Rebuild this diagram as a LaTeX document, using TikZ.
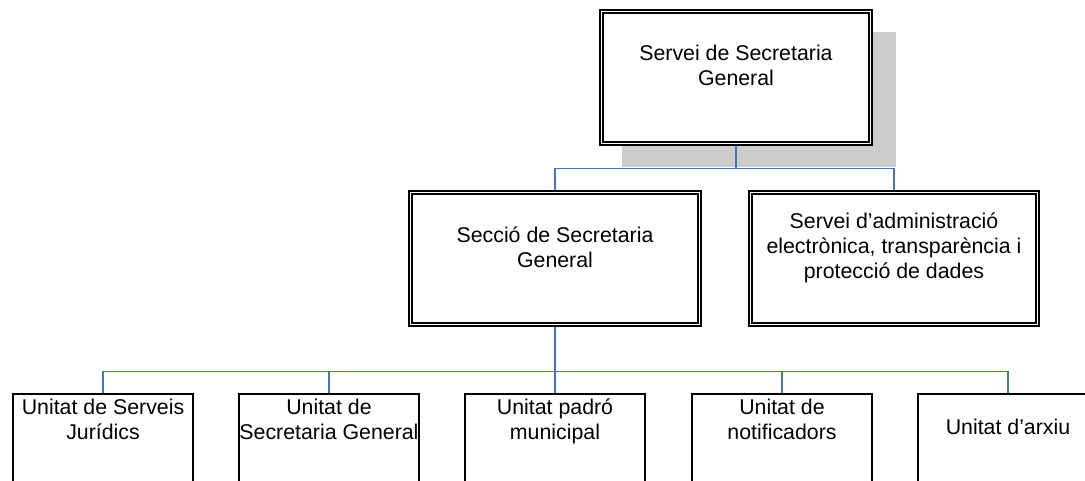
\documentclass[tikz,border=0pt]{standalone}
\usepackage{fontspec}
\setmainfont{Liberation Sans}
\usetikzlibrary{positioning,backgrounds}
\definecolor{linkblue}{RGB}{68,114,196}
\definecolor{shadowgray}{RGB}{204,204,204}
\tikzset{
  dblbox/.style={draw, fill=white, double, line width=1.2pt, double distance=1.2pt, inner sep=0pt},
  unitbox/.style={draw, line width=1.2pt, inner sep=0pt, minimum width=135pt, minimum height=150pt},
  lbl/.style={font=\fontsize{16}{18.75}\selectfont, align=center, inner sep=0pt},
  link/.style={draw=linkblue, line width=1.2pt}
}

\begin{document}
\begin{tikzpicture}[x=0.75pt,y=-0.75pt]
\useasboundingbox (0,0) rectangle (1085,480);
% top level
\node[dblbox, minimum width=201.75pt, minimum height=99pt] (sg) at (736,77.5) {};
\node[lbl, below=25.5pt of sg.north] (sg-t) {Servei de Secretaria\\General};
% second level
\node[dblbox, minimum width=216.75pt, minimum height=99pt] (ssg) at (555,258.5) {};
\node[lbl, below=26pt of ssg.north] (ssg-t) {Secció de Secretaria\\General};
\node[dblbox, minimum width=215.25pt, minimum height=99pt] (sea) at (894,258.5) {};
\node[lbl, below=15.75pt of sea.north] (sea-t) {Servei d’administració\\electrònica, transparència i\\protecció de dades};
% units
\node[unitbox] (ujur) at (103,493.75) {};
\node[unitbox] (usec) at (329,493.75) {};
\node[unitbox] (upad) at (555,493.75) {};
\node[unitbox] (unot) at (782,493.75) {};
\node[unitbox] (uarx) at (1008,493.75) {};
\node[lbl, below=4.5pt of ujur.north] (ujur-t) {Unitat de Serveis\\Jurídics};
\node[lbl, below=4.5pt of usec.north] (usec-t) {Unitat de\\Secretaria General};
\node[lbl, below=4.5pt of upad.north] (upad-t) {Unitat padró\\municipal};
\node[lbl, below=4.5pt of unot.north] (unot-t) {Unitat de\\notificadors};
\node[lbl, below=19.5pt of uarx.north] (uarx-t) {Unitat d’arxiu};
% shadow and connectors
\coordinate[below=18pt of sg.south] (bus1);
\coordinate[below=34.5pt of ssg.south] (bus2);
\begin{scope}[on background layer]
\fill[shadowgray] ([shift={(21,21)}]sg.north west) rectangle ([shift={(25,23)}]sg.south east);
\draw[link] (sg.south) -- (bus1);
\draw[link] (bus1) -| (ssg.north);
\draw[link] (bus1) -| (sea.north);
\draw[link] (ssg.south) -- (bus2);
\draw[link] (bus2) -| (ujur.north);
\draw[link] (bus2) -| (usec.north);
\draw[link] (bus2) -| (upad.north);
\draw[link] (bus2) -| (unot.north);
\draw[link] (bus2) -| (uarx.north);
\end{scope}
\end{tikzpicture}
\end{document}
